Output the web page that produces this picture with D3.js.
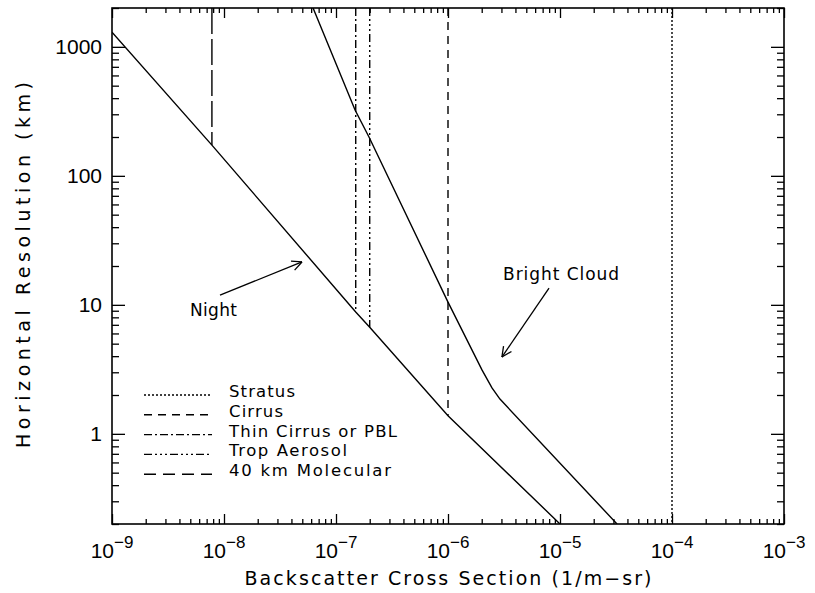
<!DOCTYPE html>
<html><head><meta charset="utf-8">
<script src="https://cdn.jsdelivr.net/npm/d3@7"></script>
<style>
body{margin:0;background:#fff}
svg{display:block}
text{font-family:"Liberation Sans",Arial,sans-serif;fill:#000}
text.w{font-family:"DejaVu Sans",sans-serif}
</style>
</head><body>
<svg id="c" width="815" height="593"></svg>
<script>
// ---------------- data ----------------
const xTickExponents = ["−9","−8","−7","−6","−5","−4","−3"];
const xTickValues = [1e-9,1e-8,1e-7,1e-6,1e-5,1e-4,1e-3];
const yTickValues = [1,10,100,1000];
const yTickLabels = ["1","10","100","1000"];

// Night curve (backscatter 1/m-sr, resolution km)
const nightBeta = [1e-9, 7.8e-9, 1.5e-7, 2e-7, 1e-6, 1e-5];
const nightRes  = [1300, 173, 8.8, 6.7, 1.38, 0.2];

// Bright Cloud (day) curve
const dayBeta = [6.24e-8, 1.48e-7, 1.97e-7, 1e-6, 2.01e-6, 2.47e-6, 2.91e-6, 3.23e-5];
const dayRes  = [2000, 324, 200, 10.5, 3.13, 2.27, 1.86, 0.2];

// Reference scatterers (vertical lines)
const refNames  = ["Stratus","Cirrus","Thin Cirrus or PBL","Trop Aerosol","40 km Molecular"];
const refBeta   = [1e-4, 1e-6, 1.5e-7, 2e-7, 7.8e-9];
const refResTop = [2000, 2000, 2000, 2000, 2000];
const refResBot = [0.2, 1.38, 8.8, 6.7, 173];

// annotations
const annotNames = ["Night","Bright Cloud"];
const annotTextBeta = [4.97e-9, 3.1e-6];
const annotTextRes  = [8.19, 15.6];
const arrowTailBeta = [9.21e-9, 7.98e-6];
const arrowTailRes  = [11.9, 13.5];
const arrowTipBeta  = [4.97e-8, 3.03e-6];
const arrowTipRes   = [21.5, 3.94];

// ---------------- styles ----------------
const plotDash   = ["2,2","8,6","8,3,2,3","8,3,2,3,2,3,2,3","26,5"];
const legendDash = ["2,2","8,6","8,3,2,3","8,3,2,3,2,3,2,3","12,7"];
const legendWidths = [66,54,168,118,162];

const L=112,R=784,T=8,B=524;
const svg=d3.select("#c");
const x=d3.scaleLog().domain([1e-9,1e-3]).range([L,R]);
const y=d3.scaleLog().domain([0.2,2000]).range([B,T]);

// minor ticks
const xMinor=[];
for(let e=-9;e<-3;e++) for(let k=2;k<=9;k++) xMinor.push(k*Math.pow(10,e));
const yMinor=[];
for(let e=-1;e<=3;e++) for(let k=1;k<=9;k++){const v=k*Math.pow(10,e); if(v>=0.2&&v<=2000&&k!==1) yMinor.push(v);}

const tickStyle=g=>{g.select(".domain").remove();g.selectAll("line").attr("stroke","#000").attr("stroke-width",1.3);g.selectAll("text").remove();};

svg.append("g").attr("transform",`translate(0,${B})`).call(d3.axisBottom(x).tickValues(xTickValues).tickSize(-10).tickFormat("")).call(tickStyle);
svg.append("g").attr("transform",`translate(0,${B})`).call(d3.axisBottom(x).tickValues(xMinor).tickSize(-5).tickFormat("")).call(tickStyle);
svg.append("g").attr("transform",`translate(0,${T})`).call(d3.axisTop(x).tickValues(xTickValues).tickSize(-10).tickFormat("")).call(tickStyle);
svg.append("g").attr("transform",`translate(0,${T})`).call(d3.axisTop(x).tickValues(xMinor).tickSize(-5).tickFormat("")).call(tickStyle);
svg.append("g").attr("transform",`translate(${L},0)`).call(d3.axisLeft(y).tickValues(yTickValues).tickSize(-13).tickFormat("")).call(tickStyle);
svg.append("g").attr("transform",`translate(${L},0)`).call(d3.axisLeft(y).tickValues(yMinor).tickSize(-7).tickFormat("")).call(tickStyle);
svg.append("g").attr("transform",`translate(${R},0)`).call(d3.axisRight(y).tickValues(yTickValues).tickSize(-13).tickFormat("")).call(tickStyle);
svg.append("g").attr("transform",`translate(${R},0)`).call(d3.axisRight(y).tickValues(yMinor).tickSize(-7).tickFormat("")).call(tickStyle);

// frame
svg.append("rect").attr("x",L).attr("y",T).attr("width",R-L).attr("height",B-T)
  .attr("fill","none").attr("stroke","#000").attr("stroke-width",1.6);

// tick labels
xTickValues.forEach((v,i)=>{
  const t=svg.append("text").attr("x",x(v)).attr("y",558).attr("text-anchor","middle").attr("font-size",21);
  t.append("tspan").text("10");
  t.append("tspan").attr("dy",-10).attr("font-size",17).text(xTickExponents[i]);
});
yTickValues.forEach((v,i)=>{
  svg.append("text").attr("x",102).attr("y",y(v)).attr("dy","0.36em").attr("text-anchor","end")
    .attr("font-size",21).text(yTickLabels[i]);
});

// axis titles
svg.append("text").attr("class","w").attr("x",448).attr("y",585).attr("text-anchor","middle").attr("font-size",19)
  .attr("textLength",407).attr("lengthAdjust","spacing").text("Backscatter Cross Section (1/m−sr)");
svg.append("text").attr("class","w").attr("transform","translate(30,265) rotate(-90)").attr("text-anchor","middle").attr("font-size",19)
  .attr("textLength",366).attr("lengthAdjust","spacing").text("Horizontal Resolution (km)");

// clip
svg.append("clipPath").attr("id","clip").append("rect").attr("x",L).attr("y",T).attr("width",R-L).attr("height",B-T);
const plot=svg.append("g").attr("clip-path","url(#clip)");

const line=d3.line().x(d=>x(d[0])).y(d=>y(d[1]));
plot.append("path").attr("d",line(nightBeta.map((b,i)=>[b,nightRes[i]])))
  .attr("fill","none").attr("stroke","#000").attr("stroke-width",1.4);
plot.append("path").attr("d",line(dayBeta.map((b,i)=>[b,dayRes[i]])))
  .attr("fill","none").attr("stroke","#000").attr("stroke-width",1.4);

refNames.forEach((n,i)=>{
  plot.append("line").attr("x1",x(refBeta[i])).attr("x2",x(refBeta[i]))
    .attr("y1",y(refResTop[i])).attr("y2",y(refResBot[i]))
    .attr("stroke","#000").attr("stroke-width",1.4).attr("stroke-dasharray",plotDash[i]);
});

// legend
refNames.forEach((n,i)=>{
  const by=397+i*19.8;
  svg.append("line").attr("x1",144).attr("x2",212).attr("y1",by-2).attr("y2",by-2)
    .attr("stroke","#000").attr("stroke-width",1.4).attr("stroke-dasharray",legendDash[i]);
  svg.append("text").attr("class","w").attr("x",229).attr("y",by).attr("font-size",16.5)
    .attr("textLength",legendWidths[i]).attr("lengthAdjust","spacing").text(n);
});

// annotations
const annotWidths=[47,116];
annotNames.forEach((n,i)=>{
  svg.append("text").attr("class","w").attr("x",x(annotTextBeta[i])).attr("y",y(annotTextRes[i])).attr("font-size",17)
    .attr("textLength",annotWidths[i]).attr("lengthAdjust","spacing").text(n);
  const x0=x(arrowTailBeta[i]),y0=y(arrowTailRes[i]),x1=x(arrowTipBeta[i]),y1=y(arrowTipRes[i]);
  svg.append("line").attr("x1",x0).attr("y1",y0).attr("x2",x1).attr("y2",y1).attr("stroke","#000").attr("stroke-width",1.3);
  const ang=Math.atan2(y1-y0,x1-x0), len=11, spread=0.45;
  [ang+Math.PI-spread, ang+Math.PI+spread].forEach(a=>{
    svg.append("line").attr("x1",x1).attr("y1",y1).attr("x2",x1+len*Math.cos(a)).attr("y2",y1+len*Math.sin(a))
      .attr("stroke","#000").attr("stroke-width",1.3);
  });
});
</script>
</body></html>
